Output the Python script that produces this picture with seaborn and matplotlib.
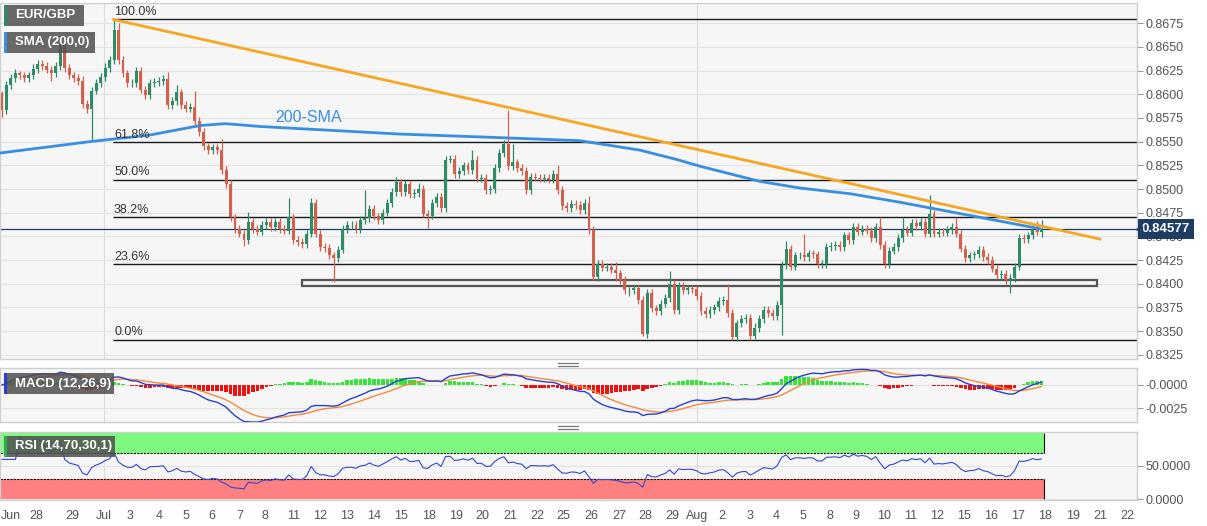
import numpy as np
import pandas as pd
import matplotlib
matplotlib.use("Agg")
import matplotlib.pyplot as plt
from matplotlib.patches import Rectangle
from matplotlib.lines import Line2D
from matplotlib.transforms import blended_transform_factory
import seaborn as sns

# EUR/GBP 4H closes in pips (price * 10000) left to right
close_pips = [
    8583, 8610, 8617, 8622, 8620, 8617, 8620, 8627, 8632, 8630,
    8626, 8622, 8630, 8654, 8628, 8620, 8617, 8614, 8590, 8584,
    8604, 8612, 8618, 8628, 8636, 8668, 8636, 8622, 8612, 8612,
    8625, 8605, 8599, 8612, 8613, 8614, 8616, 8589, 8593, 8602,
    8589, 8585, 8587, 8572, 8560, 8545, 8541, 8544, 8541, 8520,
    8505, 8470, 8458, 8453, 8446, 8465, 8458, 8455, 8462, 8465,
    8460, 8465, 8458, 8456, 8470, 8446, 8444, 8442, 8453, 8485,
    8453, 8439, 8438, 8430, 8427, 8436, 8458, 8462, 8462, 8458,
    8467, 8469, 8479, 8471, 8467, 8475, 8485, 8497, 8507, 8497,
    8505, 8495, 8496, 8500, 8474, 8472, 8485, 8492, 8480, 8531,
    8532, 8516, 8519, 8525, 8520, 8531, 8511, 8512, 8499, 8500,
    8522, 8538, 8548, 8524, 8528, 8522, 8519, 8499, 8513, 8512,
    8511, 8512, 8510, 8516, 8499, 8482, 8480, 8484, 8483, 8478,
    8485, 8457, 8407, 8421, 8417, 8418, 8415, 8411, 8404, 8393,
    8393, 8395, 8383, 8347, 8390, 8374, 8371, 8379, 8385, 8400,
    8372, 8398, 8393, 8395, 8394, 8387, 8371, 8368, 8372, 8375,
    8382, 8383, 8369, 8344, 8358, 8363, 8364, 8345, 8353, 8363,
    8372, 8369, 8366, 8378, 8420, 8437, 8418, 8430, 8430, 8428,
    8432, 8431, 8421, 8421, 8439, 8440, 8441, 8439, 8451, 8446,
    8460, 8455, 8458, 8456, 8448, 8460, 8441, 8421, 8435, 8439,
    8448, 8457, 8454, 8464, 8461, 8465, 8453, 8474, 8453, 8455,
    8454, 8457, 8460, 8453, 8437, 8427, 8430, 8431, 8436, 8428,
    8425, 8416, 8409, 8410, 8404, 8406, 8418, 8448, 8447, 8451,
    8458, 8455, 8458,
]
first_open_pips = 8601

# wick length above / below the candle body, pips
hi_ext = [
    3, 4, 4, 5, 3, 4, 4, 5, 4, 4,
    4, 4, 4, 6, 4, 4, 4, 4, 5, 4,
    4, 4, 4, 5, 4, 11, 7, 4, 4, 4,
    4, 4, 4, 4, 4, 4, 4, 8, 4, 8,
    4, 4, 4, 16, 4, 4, 4, 4, 4, 12,
    4, 4, 4, 4, 4, 11, 4, 4, 4, 4,
    4, 4, 4, 4, 20, 4, 4, 4, 4, 5,
    4, 4, 4, 4, 4, 4, 4, 4, 4, 4,
    4, 30, 4, 4, 4, 4, 4, 4, 6, 4,
    4, 4, 4, 6, 4, 4, 4, 4, 4, 4,
    4, 4, 4, 4, 4, 10, 4, 4, 4, 4,
    4, 4, 4, 35, 20, 4, 4, 4, 4, 4,
    4, 4, 4, 4, 9, 4, 4, 4, 4, 4,
    4, 8, 4, 4, 4, 4, 4, 8, 4, 4,
    4, 4, 4, 4, 4, 4, 4, 4, 4, 13,
    4, 4, 4, 4, 4, 4, 4, 4, 4, 4,
    4, 4, 17, 4, 4, 4, 4, 4, 6, 4,
    4, 4, 4, 4, 4, 8, 4, 4, 4, 23,
    4, 4, 4, 4, 4, 4, 4, 4, 4, 4,
    4, 4, 4, 4, 4, 4, 10, 4, 4, 4,
    4, 13, 4, 4, 4, 4, 4, 20, 4, 4,
    4, 4, 4, 10, 4, 4, 4, 4, 4, 4,
    4, 4, 4, 4, 4, 4, 4, 4, 5, 4,
    4, 8, 9,
]
lo_ext = [
    7, 4, 4, 4, 4, 4, 4, 4, 4, 4,
    4, 8, 4, 4, 4, 4, 4, 4, 4, 4,
    32, 4, 4, 4, 4, 4, 4, 4, 4, 4,
    4, 4, 4, 4, 4, 4, 4, 4, 4, 4,
    4, 4, 4, 4, 4, 4, 4, 4, 4, 4,
    4, 4, 4, 4, 6, 4, 4, 4, 4, 4,
    4, 4, 4, 4, 4, 4, 4, 4, 4, 4,
    4, 4, 4, 4, 25, 4, 4, 4, 4, 4,
    4, 4, 4, 4, 4, 4, 4, 4, 4, 4,
    4, 4, 4, 4, 4, 13, 4, 4, 4, 4,
    4, 4, 4, 4, 4, 4, 4, 4, 4, 4,
    4, 4, 4, 4, 4, 4, 4, 4, 4, 4,
    4, 4, 4, 4, 4, 4, 4, 4, 4, 4,
    4, 4, 3, 4, 4, 4, 4, 8, 4, 4,
    6, 4, 4, 2, 4, 4, 4, 4, 4, 4,
    4, 4, 4, 4, 4, 4, 4, 4, 4, 4,
    4, 4, 4, 3, 4, 4, 4, 4, 3, 4,
    4, 4, 4, 4, 32, 4, 4, 4, 4, 4,
    4, 4, 4, 4, 4, 4, 4, 4, 4, 4,
    4, 4, 4, 4, 4, 4, 4, 4, 4, 4,
    4, 4, 4, 4, 4, 4, 4, 4, 4, 4,
    4, 4, 4, 4, 4, 4, 4, 4, 4, 4,
    4, 4, 4, 4, 4, 14, 4, 4, 4, 4,
    4, 4, 6,
]

# 200-SMA read at a few points (bar index, pips)
sma_bar = [-0.45, 19.6, 33, 44.2, 49.8, 57.6, 73.2, 88.8, 106.7, 129,
           142.4, 150.7, 155.8, 169.2, 178.1, 189.3, 200.4, 211.6, 222.8, 231.7]
sma_pips = [8538, 8550, 8557, 8567, 8569, 8566, 8562, 8558, 8555, 8551,
            8541, 8531, 8524, 8508, 8501, 8495, 8486, 8476, 8466, 8458]

fib_high = 0.8679
fib_low = 0.8341
fib_ratios = [1.0, 0.618, 0.5, 0.382, 0.236, 0.0]
fib_labels = ["100.0%", "61.8%", "50.0%", "38.2%", "23.6%", "0.0%"]

trend_bar = [24.8, 245.1]
trend_price = [0.8679, 0.8447]

support_bar = [66.9, 244.4]
support_price = [0.8398, 0.8404]

last_price = 0.84577

day_labels = ["Jun", "28", "29", "Jul", "3", "4", "5", "6", "7", "8", "11", "12",
              "13", "14", "15", "18", "19", "20", "21", "22", "25", "26", "27",
              "28", "29", "Aug", "2", "3", "4", "5", "8", "9", "10", "11", "12",
              "15", "16", "17", "18", "19", "21", "22"]
day_pos = [2.0, 7.6, 15.6, 22.8, 28.6, 35.0, 41.1, 46.9, 53.1, 58.7, 65.0, 71.0,
           77.0, 83.0, 89.1, 95.3, 101.3, 107.1, 113.4, 119.4, 125.2, 131.5, 137.7,
           143.5, 149.6, 155.1, 160.7, 166.9, 172.8, 178.8, 184.8, 190.6, 196.9,
           202.7, 208.7, 214.7, 220.8, 226.8, 232.8, 239.1, 245.1, 251.1]

# ---- build OHLC + indicators ----
df = pd.DataFrame({"close": np.array(close_pips) / 10000.0})
df["bar"] = np.arange(len(df))
df["open"] = df["close"].shift(1).fillna(first_open_pips / 10000.0)
df["high"] = df[["open", "close"]].max(axis=1) + np.array(hi_ext) / 10000.0
df["low"] = df[["open", "close"]].min(axis=1) - np.array(lo_ext) / 10000.0

ema12 = df["close"].ewm(span=12, adjust=False).mean()
ema26 = df["close"].ewm(span=26, adjust=False).mean()
df["macd"] = ema12 - ema26
df["signal"] = df["macd"].ewm(span=9, adjust=False).mean()
df["hist"] = df["macd"] - df["signal"]

delta = df["close"].diff().fillna(0)
gain = delta.clip(lower=0).ewm(alpha=1 / 14, adjust=True).mean()
loss = (-delta.clip(upper=0)).ewm(alpha=1 / 14, adjust=True).mean()
df["rsi"] = 100 - 100 / (1 + gain / loss.replace(0, np.nan))
df["rsi"] = df["rsi"].fillna(60)

# ---- figure ----
sns.set_style("white")
plt.rcParams["font.family"] = ["Liberation Sans", "DejaVu Sans"]

W, H = 1207, 526
fig = plt.figure(figsize=(W / 100, H / 100), dpi=100)


def box(x0, y0, x1, y1):
    return [x0 / W, 1 - y1 / H, (x1 - x0) / W, (y1 - y0) / H]


ax = fig.add_axes(box(0, 3, 1137, 359))
ax_m = fig.add_axes(box(0, 368, 1137, 422), sharex=ax)
ax_r = fig.add_axes(box(0, 432, 1137, 500), sharex=ax)

panel_bg = "#f6f6f6"
grid_c = "#e3e3e3"
tick_c = "#555555"
xmin, xmax = -0.45, 253.3
month_pos = [day_pos[day_labels.index("Jul")], day_pos[day_labels.index("Aug")]]

for a in (ax, ax_m, ax_r):
    a.set_facecolor(panel_bg)
    for s in a.spines.values():
        s.set_color("#cfcfcf")
        s.set_linewidth(1.0)
    a.yaxis.tick_right()
    a.tick_params(axis="y", direction="out", length=4, color="#999999",
                  labelsize=9, labelcolor=tick_c, pad=2)
    a.grid(axis="y", color=grid_c, lw=0.8)
    a.set_axisbelow(True)
    for m in month_pos:
        a.axvline(m, color="#dcdcdc", lw=0.8, zorder=0)

ax.set_xlim(xmin, xmax)

# ---- price panel ----
up_c, dn_c = "#2f8a66", "#d3604c"
cols = np.where(df["close"] >= df["open"], up_c, dn_c)
ax.vlines(df["bar"], df["low"], df["high"], colors=cols, lw=0.9, zorder=3)
body = (df["close"] - df["open"]).abs().clip(lower=0.00004)
ax.bar(df["bar"], body, bottom=df[["open", "close"]].min(axis=1), width=0.66,
       color=cols, linewidth=0, zorder=3)

fib_prices = [fib_low + r * (fib_high - fib_low) for r in fib_ratios]
ax.hlines(fib_prices, trend_bar[0], xmax, color="#1a1a1a", lw=1.0, zorder=2)
for p, lab in zip(fib_prices, fib_labels):
    ax.text(trend_bar[0] + 0.2, p + 0.00012, lab, fontsize=9, color="#333333",
            ha="left", va="bottom", zorder=5)

ax.axhline(last_price, color="#1e3d64", lw=0.9, zorder=2)

ax.add_patch(Rectangle((support_bar[0], support_price[0]),
                       support_bar[1] - support_bar[0],
                       support_price[1] - support_price[0],
                       fc="#f4f4f4", ec="#555555", lw=1.6, zorder=2.5))

sns.lineplot(x=sma_bar, y=np.array(sma_pips) / 10000.0, ax=ax, color="#3a8ee0",
             lw=2.0, zorder=4)
sns.lineplot(x=trend_bar, y=trend_price, ax=ax, color="#f5a623", lw=2.0, zorder=4)
ax.text(61, 0.8576, "200-SMA", fontsize=11.5, color="#3a8ee0", ha="left",
        va="center", zorder=5)

price_ticks = [0.8325, 0.8350, 0.8375, 0.8400, 0.8425, 0.8450, 0.8475, 0.8500,
               0.8525, 0.8550, 0.8575, 0.8600, 0.8625, 0.8650, 0.8675]
ax.set_yticks(price_ticks)
ax.set_yticklabels([f"{t:.4f}" for t in price_ticks])
ax.set_ylim(0.83205, 0.86964)
ax.tick_params(axis="x", bottom=False, labelbottom=False)
ax.set_xlabel("")
ax.set_ylabel("")

trans = blended_transform_factory(ax.transAxes, ax.transData)
ax.text(1.004, last_price, f"{last_price:.5f}", transform=trans, fontsize=9.5,
        fontweight="bold", color="white", ha="left", va="center", zorder=10,
        bbox=dict(boxstyle="square,pad=0.3", fc="#1e3d64", ec="none"), clip_on=False)
ax.plot([1.002], [last_price], marker="<", ms=5, color="#1e3d64", transform=trans,
        clip_on=False, zorder=10)

# ---- MACD panel ----
hcols = np.where(df["hist"] >= 0, "#33e633", "#f01010")
ax_m.bar(df["bar"], df["hist"], width=0.8, color=hcols, linewidth=0, zorder=2)
sns.lineplot(data=df, x="bar", y="signal", ax=ax_m, color="#f08a3c", lw=1.0, zorder=3)
sns.lineplot(data=df, x="bar", y="macd", ax=ax_m, color="#2a3fd0", lw=1.0, zorder=3)
ax_m.set_yticks([0.0, -0.0025])
ax_m.set_yticklabels(["-0.0000", "-0.0025"])
ax_m.set_ylim(-0.00394, 0.00181)
ax_m.tick_params(axis="x", bottom=False, labelbottom=False)
ax_m.set_xlabel("")
ax_m.set_ylabel("")

# ---- RSI panel ----
last_bar = df["bar"].iloc[-1] + 0.5
ax_r.fill_between([xmin, last_bar], 70, 100, color="#7dfa7d", lw=0, zorder=1)
ax_r.fill_between([xmin, last_bar], 0, 30, color="#ff8080", lw=0, zorder=1)
ax_r.hlines([70, 30], xmin, last_bar, color="#111111", lw=0.8, linestyles=(0, (2, 1)), zorder=2)
ax_r.vlines([last_bar, last_bar], [0, 70], [30, 100], color="#111111", lw=0.8, zorder=2)
sns.lineplot(data=df, x="bar", y="rsi", ax=ax_r, color="#3348cc", lw=0.8, zorder=3)
ax_r.set_yticks([0, 50])
ax_r.set_yticklabels(["0.0000", "50.0000"])
ax_r.set_ylim(-1.5, 101.5)
ax_r.set_xticks(day_pos)
ax_r.set_xticklabels(day_labels)
ax_r.tick_params(axis="x", direction="out", length=3, color="#999999",
                 labelsize=9, labelcolor=tick_c, pad=4)
ax_r.set_xlim(xmin, xmax)
ax_r.set_xlabel("")
ax_r.set_ylabel("")


# ---- legend tags ----
def tag(x0, y0, x1, y1, text, edge):
    fx, fy, fw, fh = box(x0, y0, x1, y1)
    fig.add_artist(Rectangle((fx, fy), fw, fh, transform=fig.transFigure,
                             fc="#4f4f4f", ec="none", alpha=0.85, zorder=20))
    fig.add_artist(Rectangle((fx, fy), 2.5 / W, fh, transform=fig.transFigure,
                             fc=edge, ec="none", zorder=21))
    fig.text(fx + 11 / W, fy + fh / 2, text, color="white", fontsize=9.5,
             fontweight="bold", ha="left", va="center", zorder=22)


tag(4, 5, 84, 26, "EUR/GBP", "#2f8a66")
tag(4, 32, 95, 53, "SMA (200,0)", "#3a8ee0")
tag(4, 373, 114, 394, "MACD (12,26,9)", "#2a3fd0")
tag(4, 436, 115, 457, "RSI (14,70,30,1)", "#2fa84f")

# drag handles between panels
for yy in (362.5, 365.5, 425.5, 428.5):
    fig.add_artist(Line2D([558 / W, 578 / W], [1 - yy / H, 1 - yy / H],
                          transform=fig.transFigure, color="#777777", lw=0.9))

fig.savefig("out.png", dpi=100, facecolor="white")
